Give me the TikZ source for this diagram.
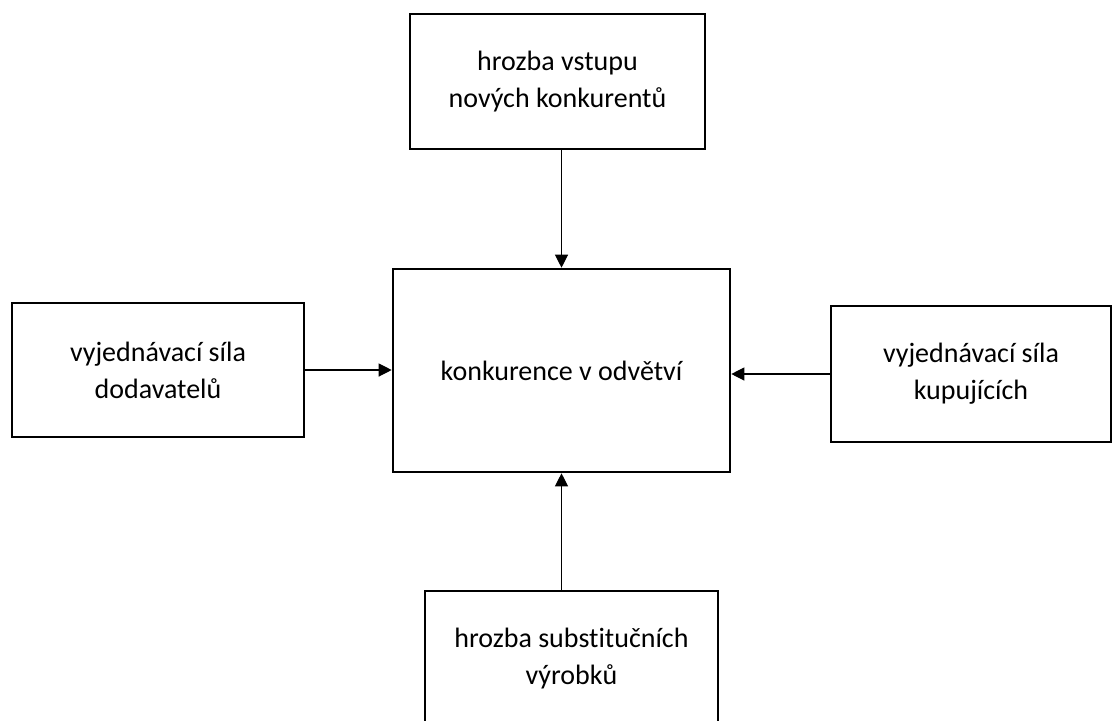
\documentclass[tikz,border=0pt]{standalone}
\usepackage{fontspec}
\setmainfont[Ligatures=NoCommon]{Carlito}
\usepackage{tikz}
\usetikzlibrary{arrows.meta, positioning}

\begin{document}
\begin{tikzpicture}[x=0.5pt, y=0.5pt,
    force/.style={draw, line width=1.3pt, align=center,
      font=\fontsize{14}{18.5}\selectfont, inner sep=0pt},
    push/.style={-{Triangle[length=6.5pt, width=6.5pt]}, line width=0.6pt}]
  \useasboundingbox (0,0) rectangle (1114,720);
  \clip (0,0) rectangle (1114,720);
  % the five forces
  \node[force, minimum width=168.5pt, minimum height=101.5pt] (cen) at (561.5,349.5)
    {konkurence v odvětví};
  \node[force, minimum width=147.5pt, minimum height=67.5pt] (top) at (557.5,638.5)
    {hrozba vstupu\\nových konkurentů};
  \node[force, minimum width=146pt, minimum height=67pt] (lft) at (158,350)
    {vyjednávací síla\\dodavatelů};
  \node[force, minimum width=140pt, minimum height=68pt] (rgt) at (971,346)
    {vyjednávací síla\\kupujících};
  \node[force, minimum width=146.5pt, minimum height=67.5pt] (bot) at (571.5,61.5)
    {hrozba substitučních\\výrobků};
  % arrows into the middle
  \draw[push] (top.south -| cen.north) -- (cen.north);
  \draw[push] (bot.north -| cen.south) -- (cen.south);
  \draw[push] (lft.east) -- (lft.east -| cen.west);
  \draw[push] (rgt.west) -- (rgt.west -| cen.east);
\end{tikzpicture}
\end{document}
